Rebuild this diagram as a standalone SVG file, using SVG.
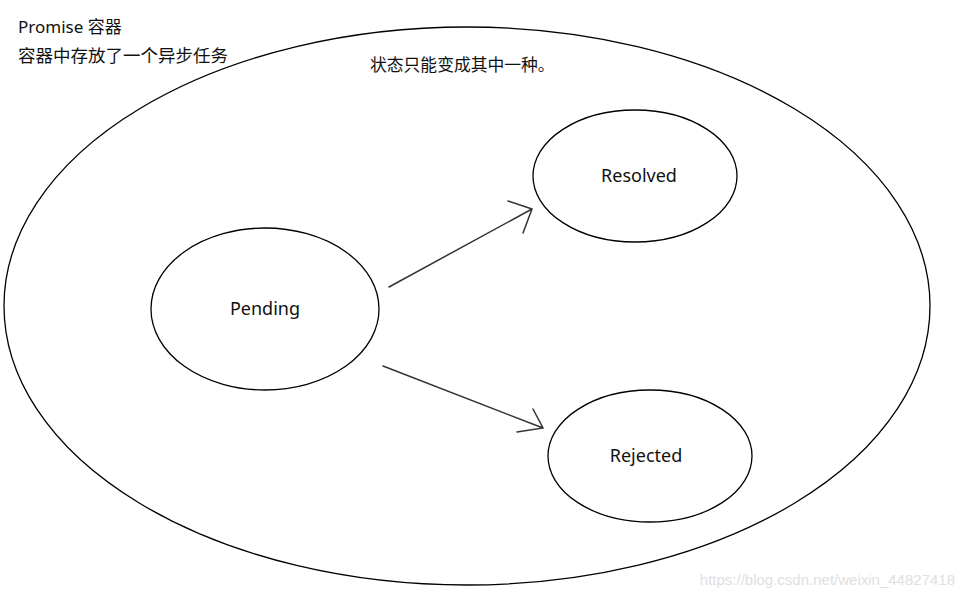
<svg xmlns="http://www.w3.org/2000/svg" width="964" height="598" viewBox="0 0 964 598">
<style>
.e{fill:none;stroke:#000;stroke-width:1.3}
.t{font-family:"Noto Sans","Noto Sans CJK SC",sans-serif;font-size:17px;fill:#111}
.c{stroke:#333;stroke-width:1.5;fill:none;stroke-linecap:round}
</style>
<rect width="964" height="598" fill="#fff"/>
<g id="container"><ellipse class="e" cx="467" cy="306" rx="463" ry="279"/></g>
<text class="t" x="18" y="33">Promise 容器</text>
<text class="t" x="18" y="62" style="font-size:17.5px">容器中存放了一个异步任务</text>
<text class="t" x="370" y="71" style="font-size:16.8px">状态只能变成其中一种。</text>
<g id="pending"><ellipse class="e" cx="265" cy="309" rx="114" ry="81"/><text class="t" x="265" y="315" text-anchor="middle" style="font-size:18px">Pending</text></g>
<g id="resolved"><ellipse class="e" cx="635" cy="176" rx="102" ry="66"/><text class="t" x="639" y="182" text-anchor="middle" style="font-size:18px">Resolved</text></g>
<g id="rejected"><ellipse class="e" cx="650" cy="456" rx="102" ry="66"/><text class="t" x="646" y="462" text-anchor="middle" style="font-size:18px">Rejected</text></g>
<g id="connectors">
<path class="c" d="M389 287 L532 209 M508 201 L532 209 L523 233"/>
<path class="c" d="M383 366 L543 428 M533 409 L543 428 L517 432"/>
</g>
<text x="955" y="585" text-anchor="end" style="font-family:'Liberation Sans',sans-serif;font-size:15px;fill:#e0e0e0">https://blog.csdn.net/weixin_44827418</text>
</svg>
